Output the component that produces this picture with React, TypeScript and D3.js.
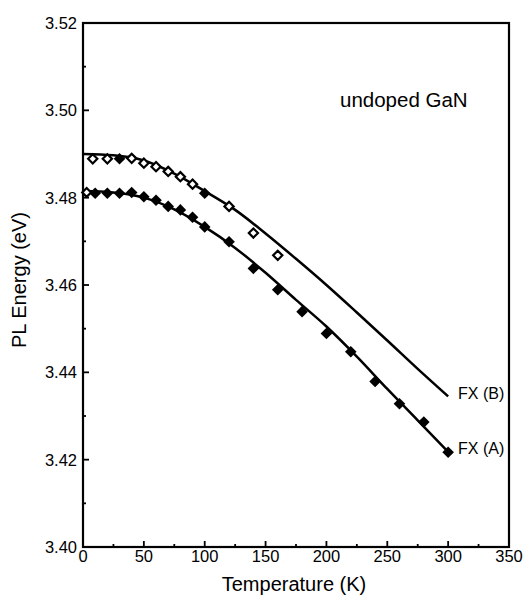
import * as d3 from "d3";

// FX(B): open diamonds (temperature K, PL energy eV)
const fxBOpenT = [8, 20, 40, 50, 60, 70, 80, 90, 120, 140, 160];
const fxBOpenE = [3.4889, 3.4889, 3.489, 3.4879, 3.4871, 3.486, 3.4848, 3.4831, 3.478, 3.4719, 3.4668];
// filled points sitting on the FX(B) row
const fxBFilledT = [30, 100];
const fxBFilledE = [3.4889, 3.481];

// FX(A): filled diamonds
const fxAT = [10, 20, 30, 40, 50, 60, 70, 80, 90, 100, 120, 140, 160, 180, 200, 220, 240, 260, 280, 300];
const fxAE = [
  3.481, 3.481, 3.481, 3.4812, 3.4802, 3.4794, 3.478, 3.4772, 3.4755, 3.4733, 3.4699, 3.4638, 3.4589, 3.4539,
  3.4489, 3.4447, 3.4379, 3.4328, 3.4286, 3.4217,
];
const fxAOpenT = [3];
const fxAOpenE = [3.4812];

// fitted curves
const fitT = [0, 25, 50, 75, 100, 125, 150, 175, 200, 225, 250, 275, 300];
const fitB = [3.49, 3.4897, 3.4885, 3.4855, 3.4815, 3.4772, 3.4718, 3.466, 3.46, 3.4537, 3.4473, 3.4408, 3.4345];
const fitA = [3.4815, 3.4812, 3.48, 3.4773, 3.4733, 3.4685, 3.4628, 3.4566, 3.4505, 3.4436, 3.4362, 3.429, 3.4218];

const xTicks = [0, 50, 100, 150, 200, 250, 300, 350];
const xMinor = [25, 75, 125, 175, 225, 275, 325];
const yTicks = [3.4, 3.42, 3.44, 3.46, 3.48, 3.5, 3.52];
const yMinor = [3.41, 3.43, 3.45, 3.47, 3.49, 3.51];

const W = 526;
const H = 600;
const left = 83;
const right = 509;
const top = 23;
const bottom = 547;
const font = "'Liberation Sans', Arial, sans-serif";

export default function App() {
  const x = d3.scaleLinear().domain([0, 350]).range([left, right]);
  const y = d3.scaleLinear().domain([3.4, 3.52]).range([bottom, top]);

  const line = d3
    .line<number>()
    .x((_, i) => x(fitT[i]))
    .y((d) => y(d))
    .curve(d3.curveMonotoneX);

  const diamond = (cx: number, cy: number, r: number) =>
    `M${cx},${cy - r}L${cx + r},${cy}L${cx},${cy + r}L${cx - r},${cy}Z`;

  return (
    <svg width={W} height={H} style={{ position: "absolute", left: 0, top: 0, background: "#fff" }}>
      {/* fitted curves */}
      <path d={line(fitB) || ""} fill="none" stroke="#000" strokeWidth={2.5} />
      <path d={line(fitA) || ""} fill="none" stroke="#000" strokeWidth={2.5} />

      {/* markers */}
      {fxAT.map((t, i) => (
        <path key={"a" + i} d={diamond(x(t), y(fxAE[i]), 5.8)} fill="#000" />
      ))}
      {fxAOpenT.map((t, i) => (
        <path key={"ao" + i} d={diamond(x(t), y(fxAOpenE[i]), 4.4)} fill="#fff" stroke="#000" strokeWidth={2.2} />
      ))}
      {fxBOpenT.map((t, i) => (
        <path key={"b" + i} d={diamond(x(t), y(fxBOpenE[i]), 4.6)} fill="#fff" stroke="#000" strokeWidth={2.2} />
      ))}
      {fxBFilledT.map((t, i) => (
        <path key={"bf" + i} d={diamond(x(t), y(fxBFilledE[i]), 5.8)} fill="#000" />
      ))}

      {/* frame */}
      <rect x={left} y={top} width={right - left} height={bottom - top} fill="none" stroke="#000" strokeWidth={2.2} />

      {/* x ticks */}
      {xTicks.map((t) => (
        <g key={"xt" + t}>
          <line x1={x(t)} x2={x(t)} y1={bottom} y2={bottom - 6} stroke="#000" strokeWidth={1.8} />
          <text x={x(t)} y={bottom + 15} textAnchor="middle" fontFamily={font} fontSize={16.5}>
            {t}
          </text>
        </g>
      ))}
      {xMinor.map((t) => (
        <line key={"xm" + t} x1={x(t)} x2={x(t)} y1={bottom} y2={bottom - 3} stroke="#000" strokeWidth={1.8} />
      ))}

      {/* y ticks */}
      {yTicks.map((t) => (
        <g key={"yt" + t}>
          <line x1={left} x2={left + 6} y1={y(t)} y2={y(t)} stroke="#000" strokeWidth={1.8} />
          <text x={left - 6} y={y(t) + 6} textAnchor="end" fontFamily={font} fontSize={16.5}>
            {d3.format(".2f")(t)}
          </text>
        </g>
      ))}
      {yMinor.map((t) => (
        <line key={"ym" + t} x1={left} x2={left + 3} y1={y(t)} y2={y(t)} stroke="#000" strokeWidth={1.8} />
      ))}

      {/* labels */}
      <text x={340} y={107} fontFamily={font} fontSize={20.5}>
        undoped GaN
      </text>
      <text x={458} y={399} fontFamily={font} fontSize={16}>
        FX (B)
      </text>
      <text x={458} y={454} fontFamily={font} fontSize={16}>
        FX (A)
      </text>

      <text x={(left + right) / 2 - 2} y={591} textAnchor="middle" fontFamily={font} fontSize={20}>
        Temperature (K)
      </text>
      <text transform={`translate(26,280) rotate(-90)`} textAnchor="middle" fontFamily={font} fontSize={20}>
        PL Energy (eV)
      </text>
    </svg>
  );
}
